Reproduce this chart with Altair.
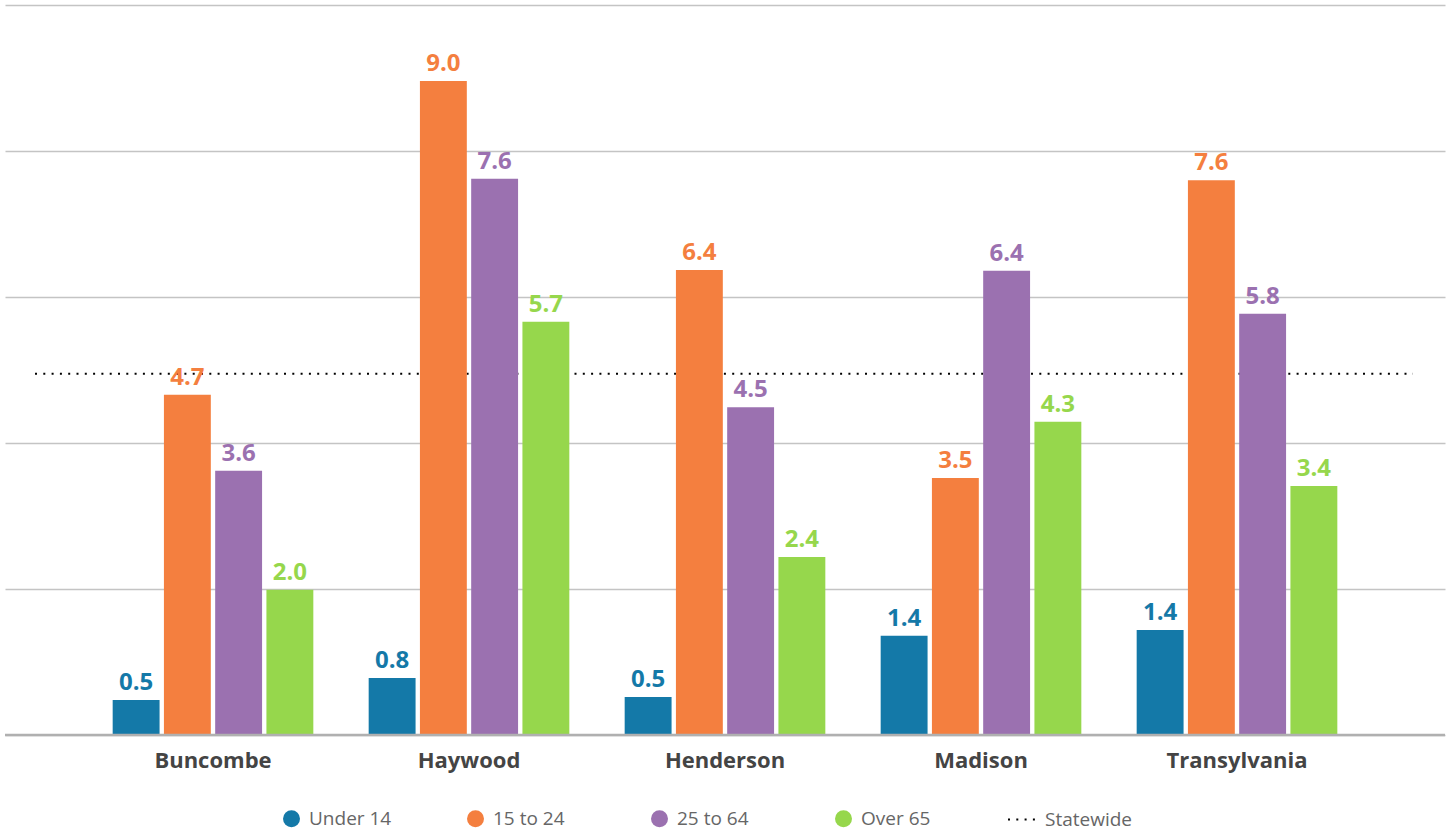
import altair as alt
import pandas as pd

counties = ["Buncombe", "Haywood", "Henderson", "Madison", "Transylvania"]
groups = ["Under 14", "15 to 24", "25 to 64", "Over 65"]
under_14 = [0.48, 0.78, 0.52, 1.36, 1.44]
age_15_24 = [4.66, 8.96, 6.37, 3.52, 7.60]
age_25_64 = [3.62, 7.62, 4.49, 6.36, 5.77]
over_65 = [1.99, 5.66, 2.44, 4.29, 3.41]
statewide = 4.95
colors = ["#1479a8", "#f47f3f", "#9b71b0", "#96d74c"]

series = [under_14, age_15_24, age_25_64, over_65]
rows = []
for i, c in enumerate(counties):
    for g, vals in zip(groups, series):
        rows.append({"county": c, "group": g, "value": vals[i]})
df = pd.DataFrame(rows)
df_state = pd.DataFrame({"series": ["Statewide"], "value": [statewide]})

FONT = "Open Sans"

x = alt.X(
    "county:N", sort=counties,
    scale=alt.Scale(paddingInner=0, paddingOuter=0.3125),
    axis=alt.Axis(title=None, labelAngle=0, labelFont=FONT, labelFontWeight="bold",
                  labelFontSize=22, labelColor="#444444", labelPadding=15,
                  ticks=False, domain=False, grid=False),
)
xo = alt.XOffset("group:N", sort=groups,
                 scale=alt.Scale(paddingInner=0.085, paddingOuter=0.54))
y = alt.Y(
    "value:Q",
    scale=alt.Scale(domain=[0, 10], nice=False, zero=True),
    axis=alt.Axis(title=None, labels=False, ticks=False, domain=False,
                  values=[0, 2, 4, 6, 8, 10], gridColor="#c4c4c4", gridWidth=1.5),
)
color = alt.Color(
    "group:N", sort=groups,
    scale=alt.Scale(domain=groups, range=colors),
    legend=alt.Legend(orient="none", legendX=277, legendY=804, direction="horizontal",
                      title=None, symbolType="circle", symbolSize=289,
                      symbolStrokeWidth=0, symbolOpacity=1,
                      labelFont=FONT, labelFontSize=19, labelColor="#666666",
                      labelOffset=8, columnPadding=74, gridAlign="all"),
)

state_rule = alt.Chart(df_state).mark_rule(strokeWidth=2).encode(
    y=alt.Y("value:Q"),
    x=alt.value(30),
    x2=alt.value(1408),
    color=alt.value("black"),
    strokeDash=alt.StrokeDash(
        "series:N",
        scale=alt.Scale(domain=["Statewide"], range=[[2, 6.3]]),
        legend=alt.Legend(orient="none", legendX=1002, legendY=797, title=None,
                          direction="horizontal", symbolType="stroke",
                          symbolSize=1089, symbolStrokeColor="black",
                          symbolStrokeWidth=2, symbolDash=[2, 3.5],
                          labelFont=FONT, labelFontSize=19, labelColor="#666666",
                          labelOffset=3),
    ),
)

bars = alt.Chart(df).mark_bar().encode(x=x, xOffset=xo, y=y, color=color)

labels = alt.Chart(df).mark_text(
    dy=-10, baseline="alphabetic", font=FONT, fontWeight="bold", fontSize=24
).encode(x=x, xOffset=xo, y=y, color=color,
         text=alt.Text("value:Q", format=".1f"))

baseline = alt.Chart(df_state).mark_rule(color="#b0b0b0", strokeWidth=2.5).encode(
    y=alt.datum(0)
)

chart = alt.layer(state_rule, bars, labels, baseline).properties(
    width=1440, height=730,
    padding={"left": 5, "top": 5, "right": 7, "bottom": 97},
    autosize="none",
).configure_view(stroke=None)

chart.save("out.html", embed_options={"renderer": "svg", "actions": False})
